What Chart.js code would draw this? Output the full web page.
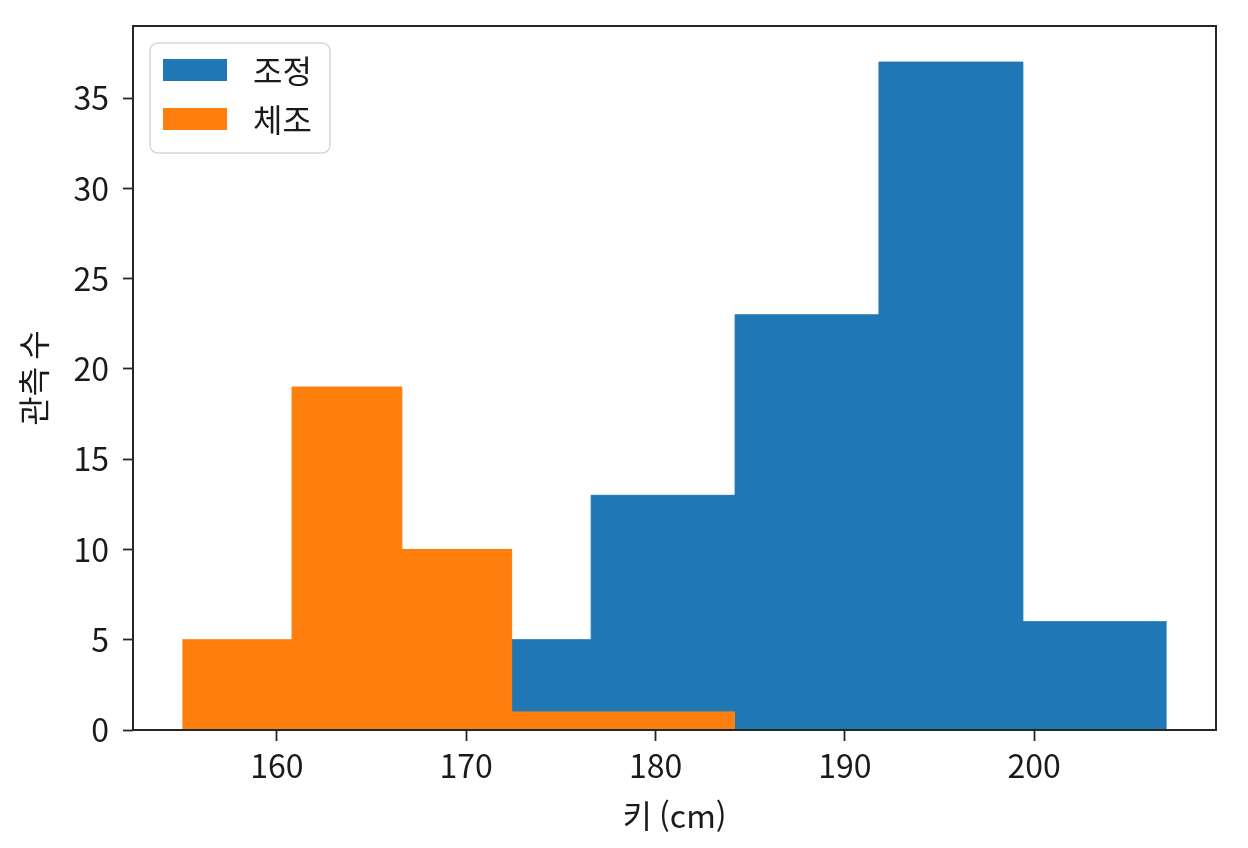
<!DOCTYPE html>
<html lang="ko">
<head>
<meta charset="utf-8">
<title>키 분포</title>
<script src="https://cdn.jsdelivr.net/npm/chart.js@4.4.1/dist/chart.umd.min.js"></script>
<style>
html, body { margin: 0; padding: 0; background: #fff; }
#wrap { width: 1248px; height: 848px; }
</style>
</head>
<body>
<div id="wrap"><canvas id="hist"></canvas></div>
<script>
// 조정 / 체조 선수 키 히스토그램 (구간 경계 + 도수)
const rowingEdges = [169.0, 176.6, 184.2, 191.8, 199.4, 207.0];
const rowingCounts = [5, 13, 23, 37, 6];
const gymEdges = [155.0, 160.8, 166.6, 172.4, 178.3, 184.2];
const gymCounts = [5, 19, 10, 1, 1];
const xTicks = [160, 170, 180, 190, 200];
const yTicks = [0, 5, 10, 15, 20, 25, 30, 35];

const FONT = "'Noto Sans CJK KR', 'Noto Sans', sans-serif";
const INK = '#1a1a1a';

// stepped line: each edge carries the count of the bin that starts there
function steps(edges, counts) {
    return edges.map((e, i) => ({ x: e, y: counts[Math.min(i, counts.length - 1)] }));
}

// matplotlib style frame around the plot
const frame = {
    id: 'frame',
    afterDatasetsDraw(chart) {
        const { ctx, chartArea: a } = chart;
        ctx.save();
        ctx.strokeStyle = '#262626';
        ctx.lineWidth = 2;
        ctx.strokeRect(a.left, a.top, a.right - a.left, a.bottom - a.top);
        ctx.restore();
    }
};

// legend box in the upper left corner of the plot
const boxLegend = {
    id: 'boxLegend',
    afterDraw(chart) {
        const { ctx, chartArea: a } = chart;
        const x = a.left + 17, y = a.top + 17, w = 180, h = 110;
        ctx.save();
        ctx.beginPath();
        ctx.roundRect(x, y, w, h, 8);
        ctx.fillStyle = 'rgba(255,255,255,0.8)';
        ctx.fill();
        ctx.strokeStyle = '#d6d6d6';
        ctx.lineWidth = 1.5;
        ctx.stroke();
        ctx.font = '32px ' + FONT;
        ctx.textBaseline = 'middle';
        ctx.textAlign = 'left';
        chart.data.datasets.forEach((ds, i) => {
            const ry = y + 16 + i * 49;
            ctx.fillStyle = ds.backgroundColor;
            ctx.fillRect(x + 13, ry, 64, 22);
            ctx.fillStyle = INK;
            ctx.fillText(ds.label, x + 103, ry + 12);
        });
        ctx.restore();
    }
};

const ctx = document.getElementById('hist').getContext('2d');
new Chart(ctx, {
    type: 'line',
    data: {
        datasets: [{
            label: '조정',
            data: steps(rowingEdges, rowingCounts),
            backgroundColor: '#1f77b4',
            borderColor: '#1f77b4',
            borderWidth: 1,
            stepped: true,
            fill: 'origin',
            pointRadius: 0,
            order: 2
        }, {
            label: '체조',
            data: steps(gymEdges, gymCounts),
            backgroundColor: '#ff7f0e',
            borderColor: '#ff7f0e',
            borderWidth: 1,
            stepped: true,
            fill: 'origin',
            pointRadius: 0,
            order: 1
        }]
    },
    options: {
        responsive: true,
        maintainAspectRatio: false,
        animation: false,
        layout: { padding: { top: 26, right: 32, left: 0, bottom: 0 } },
        plugins: {
            legend: { display: false },
            tooltip: { enabled: false }
        },
        scales: {
            x: {
                type: 'linear',
                min: 152.4,
                max: 209.6,
                afterBuildTicks: (s) => { s.ticks = xTicks.map(v => ({ value: v })); },
                afterFit: (s) => {
                    s.height = 118;
                    s.paddingLeft = 0;
                    s.paddingRight = 0;
                },
                border: { display: false },
                grid: {
                    drawOnChartArea: false,
                    drawTicks: true,
                    tickLength: 11,
                    tickColor: '#262626',
                    tickWidth: 1.8
                },
                ticks: {
                    padding: 6,
                    color: INK,
                    font: { family: FONT, size: 32 },
                    maxRotation: 0
                },
                title: {
                    display: true,
                    text: '키 (cm)',
                    color: INK,
                    font: { family: FONT, size: 32 },
                    padding: { top: 0, bottom: 13 }
                }
            },
            y: {
                min: 0,
                max: 39,
                afterBuildTicks: (s) => { s.ticks = yTicks.map(v => ({ value: v })); },
                afterFit: (s) => {
                    s.width = 133;
                    s.paddingTop = 0;
                    s.paddingBottom = 0;
                },
                border: { display: false },
                grid: {
                    drawOnChartArea: false,
                    drawTicks: true,
                    tickLength: 10,
                    tickColor: '#262626',
                    tickWidth: 1.8
                },
                ticks: {
                    padding: 14,
                    color: INK,
                    font: { family: FONT, size: 32 }
                },
                title: {
                    display: true,
                    text: '관측 수',
                    color: INK,
                    font: { family: FONT, size: 32 },
                    padding: { top: 15, bottom: 0 }
                }
            }
        }
    },
    plugins: [frame, boxLegend]
});
</script>
</body>
</html>
